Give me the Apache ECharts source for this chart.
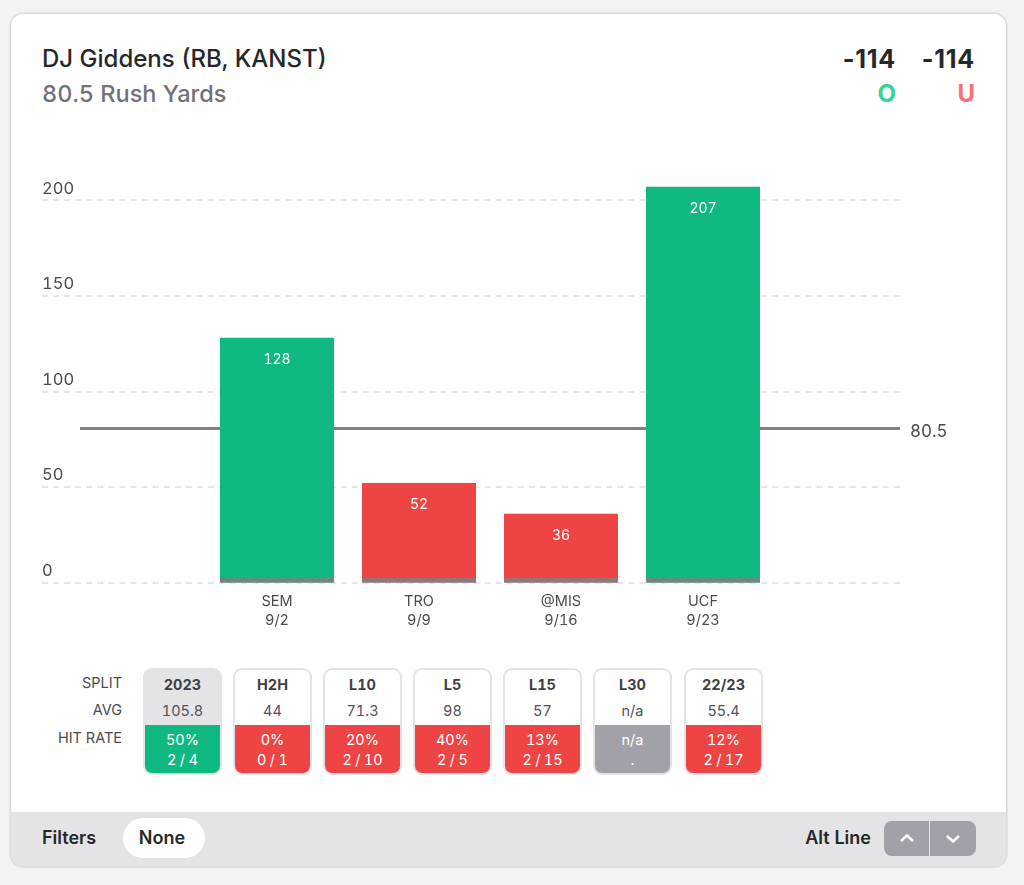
<!DOCTYPE html>
<html>
<head>
<meta charset="utf-8">
<title>DJ Giddens Rush Yards</title>
<script src="https://cdn.jsdelivr.net/npm/echarts@6/dist/echarts.min.js"></script>
<style>
html, body { margin: 0; padding: 0; }
body { width: 1024px; height: 885px; background: #f3f3f3; font-family: Inter, "Noto Sans", sans-serif; font-feature-settings: "tnum"; position: relative; overflow: hidden; color: #18181b; }
.abs { position: absolute; white-space: nowrap; }
.odds { font-feature-settings: normal; font-size: 25px; line-height: 30px; letter-spacing: .8px; font-weight: 700; color: #27272a; }
#card { position: absolute; left: 11px; top: 14px; width: 995px; height: 852px; background: #fff; border-radius: 12px; box-shadow: 0 0 0 1.5px #dcdcde, 0 1px 3px rgba(0,0,0,.12); overflow: hidden; }
#footer { position: absolute; left: 0; right: 0; bottom: 0; height: 54px; background: #e4e4e7; }
#main { position: absolute; left: 0; top: 140px; width: 1024px; height: 500px; }
.rowlabel { position: absolute; right: 902px; font-size: 14.5px; line-height: 18px; color: #4b4b52; white-space: nowrap; }
.split { position: absolute; top: 668px; width: 75px; height: 103px; border: 2px solid #e4e4e7; border-radius: 9px; overflow: hidden; background: #fff; text-align: center; font-size: 14.5px; color: #3f3f46; }
.split.current { background: #e4e4e7; }
.split .name { position: absolute; left: 0; right: 0; top: 6px; line-height: 18px; font-weight: 700; }
.split .avg { position: absolute; left: 0; right: 0; top: 31.5px; line-height: 18px; color: #52525b; }
.split .hit { position: absolute; left: -2px; right: -2px; top: 55px; bottom: 0; color: #fff; }
.split .pct { position: absolute; left: 0; right: 0; top: 6px; line-height: 18px; }
.split .cnt { position: absolute; left: 0; right: 0; top: 26px; line-height: 18px; word-spacing: -.5px; }
.btn { position: absolute; top: 821px; height: 35px; background: #a1a1aa; }
.btn svg { position: absolute; left: 15px; top: 12px; }
</style>
</head>
<body>
<div id="card"><div id="footer"></div></div>

<div class="abs" style="left:42px;top:44px;font-size:24px;line-height:30px;font-weight:500;color:#27272a">DJ Giddens (RB, KANST)</div>
<div class="abs" style="left:42px;top:79px;font-size:23.5px;line-height:30px;font-weight:500;color:#71717a">80.5 Rush Yards</div>
<div class="abs odds" style="right:128px;top:44px">-114</div>
<div class="abs odds" style="right:49px;top:44px">-114</div>
<div class="abs" style="right:128px;top:79px;font-size:24px;line-height:30px;font-weight:700;color:#34d399">O</div>
<div class="abs" style="right:49px;top:79px;font-size:24px;line-height:30px;font-weight:700;color:#f87171">U</div>

<div id="main"></div>

<div class="rowlabel" style="top:674px">SPLIT</div>
<div class="rowlabel" style="top:701px">AVG</div>
<div class="rowlabel" style="top:729px">HIT RATE</div>
<div id="splits"></div>

<div class="abs" style="left:42px;top:827px;font-size:18px;line-height:22px;font-weight:600;color:#27272a">Filters</div>
<div class="abs" style="left:123px;top:818px;width:82px;height:40px;border-radius:20px;background:#fff;text-align:center;font-size:18px;line-height:40px;font-weight:600;color:#27272a"><span style="position:relative;left:-2px">None</span></div>
<div class="abs" style="right:153px;top:827px;font-size:18px;line-height:22px;font-weight:600;color:#27272a">Alt Line</div>
<div class="btn" style="left:884px;width:45px;border-radius:8px 0 0 8px"><svg width="16" height="11" viewBox="0 0 16 11"><path d="M2 8 L8 2.5 L14 8" fill="none" stroke="#fff" stroke-width="2.4"/></svg></div>
<div class="btn" style="left:930px;width:46px;border-radius:0 8px 8px 0"><svg width="16" height="11" viewBox="0 0 16 11"><path d="M2 3 L8 8.5 L14 3" fill="none" stroke="#fff" stroke-width="2.4"/></svg></div>

<script type="text/javascript">
var opponents = ['SEM', 'TRO', '@MIS', 'UCF'];
var dates = ['9/2', '9/9', '9/16', '9/23'];
var yards = [128, 52, 36, 207];
var lineValue = [80.5, 80.5];
var floorStrip = [2.2, 2.2, 2.2, 2.2];

var splitNames = ['2023', 'H2H', 'L10', 'L5', 'L15', 'L30', '22/23'];
var splitAvgs = ['105.8', '44', '71.3', '98', '57', 'n/a', '55.4'];
var hitPcts = ['50%', '0%', '20%', '40%', '13%', 'n/a', '12%'];
var hitCounts = ['2 / 4', '0 / 1', '2 / 10', '2 / 5', '2 / 15', '.', '2 / 17'];
var hitKinds = ['over', 'under', 'under', 'under', 'under', 'none', 'under'];
var splitLefts = [143, 233, 323, 413, 503, 593, 684];

var GREEN = '#10b981', RED = '#ef4444';
var kindColors = { over: GREEN, under: RED, none: '#a1a1aa' };

var html = '';
for (var i = 0; i < splitNames.length; i++) {
	html += '<div class="split' + (i == 0 ? ' current' : '') + '" style="left:' + splitLefts[i] + 'px">' +
		'<div class="name">' + splitNames[i] + '</div>' +
		'<div class="avg">' + splitAvgs[i] + '</div>' +
		'<div class="hit" style="background:' + kindColors[hitKinds[i]] + '">' +
		'<div class="pct">' + hitPcts[i] + '</div>' +
		'<div class="cnt">' + hitCounts[i] + '</div></div></div>';
}
document.getElementById('splits').innerHTML = html;

var myChart = echarts.init(document.getElementById('main'));

// same y scale in all three grids: bars, dashed grid lines, 80.5 line
var gridTop = 41, gridHeight = 401.5;
var yMax = 210;

var option = {
	animation: false,
	textStyle: { fontFamily: 'Inter' },
	grid: [
		{ left: 206, width: 568, top: gridTop, height: gridHeight },
		{ left: 42, width: 858, top: gridTop, height: gridHeight },
		{ left: 80, width: 820, top: gridTop, height: gridHeight }
	],
	xAxis: [
		{
			gridIndex: 0,
			type: 'category',
			data: opponents.map(function (o, i) { return o + '\n' + dates[i]; }),
			axisLine: { show: false },
			axisTick: { show: false },
			axisLabel: { color: '#4b4b52', fontSize: 14.5, lineHeight: 19, margin: 10, interval: 0 }
		},
		{ gridIndex: 1, type: 'category', data: opponents, show: false },
		{ gridIndex: 2, type: 'category', data: ['start', 'end'], boundaryGap: false, show: false }
	],
	yAxis: [
		{ gridIndex: 0, type: 'value', min: 0, max: yMax, interval: 50, show: false },
		{
			gridIndex: 1,
			type: 'value',
			min: 0,
			max: yMax,
			interval: 50,
			axisLine: { show: false },
			axisTick: { show: false },
			axisLabel: {
				inside: true,
				margin: 0,
				showMaxLabel: false,
				color: '#4b4b52',
				fontSize: 16.5,
				align: 'left',
				verticalAlign: 'bottom',
				padding: [0, 0, 3, 0]
			},
			splitLine: {
				showMaxLine: false,
				lineStyle: { color: '#dedee0', width: 1.5, type: [6, 5.065] }
			}
		},
		{ gridIndex: 2, type: 'value', min: 0, max: yMax, interval: 50, show: false }
	],
	series: [
		{
			type: 'line',
			xAxisIndex: 2,
			yAxisIndex: 2,
			data: lineValue,
			z: 1,
			symbol: 'none',
			silent: true,
			lineStyle: { color: '#808080', width: 3 },
			endLabel: {
				show: true,
				formatter: '80.5',
				color: '#4b4b52',
				fontSize: 17,
				distance: 10,
				offset: [0, 3]
			}
		},
		{
			type: 'bar',
			xAxisIndex: 0,
			yAxisIndex: 0,
			data: yards,
			barWidth: 114,
			barGap: '-100%',
			z: 2,
			itemStyle: {
				color: function (p) { return p.value > lineValue[0] ? GREEN : RED; }
			},
			label: { show: true, position: 'insideTop', distance: 15, color: '#fff', fontSize: 14 }
		},
		{
			type: 'bar',
			xAxisIndex: 0,
			yAxisIndex: 0,
			data: floorStrip,
			barWidth: 114,
			barGap: '-100%',
			z: 3,
			itemStyle: { color: '#7f7f7f' }
		}
	]
};
myChart.setOption(option);
</script>
</body>
</html>
